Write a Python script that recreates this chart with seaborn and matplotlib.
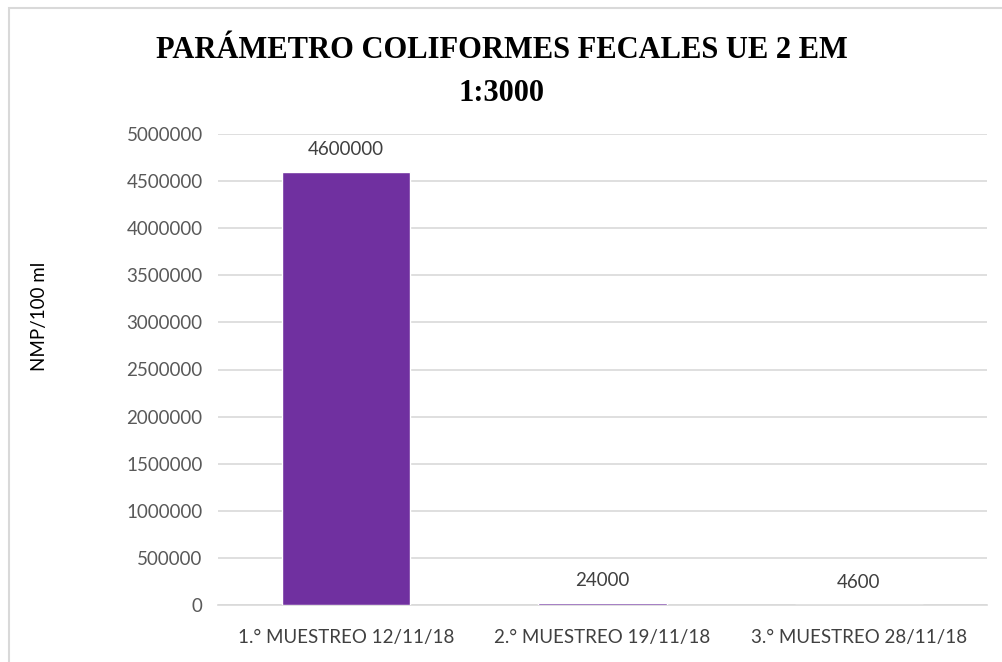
import matplotlib
matplotlib.use("Agg")
import matplotlib.pyplot as plt
import seaborn as sns
import pandas as pd
from matplotlib.patches import Rectangle

categories = ["1.° MUESTREO 12/11/18", "2.° MUESTREO 19/11/18", "3.° MUESTREO 28/11/18"]
values = [4600000, 24000, 4600]
yticks = [0, 500000, 1000000, 1500000, 2000000, 2500000, 3000000, 3500000, 4000000, 4500000, 5000000]

sns.set_theme(style="white")
plt.rcParams['font.family'] = ['Lato', 'DejaVu Sans']

df = pd.DataFrame({"cat": categories, "val": values})

fig = plt.figure(figsize=(10.03, 6.62), dpi=100)
ax = fig.add_axes([218/1003, 1 - 605/662, (987-218)/1003, (605-134)/662])

sns.barplot(data=df, x="cat", y="val", color="#7030A0", saturation=1, width=0.5, ax=ax, zorder=3)

ax.set_ylim(0, 5000000)
ax.set_yticks(yticks)
ax.set_yticklabels([str(v) for v in yticks], fontsize=13.5, color="#595959")
ax.tick_params(axis="x", labelsize=13.5, colors="#404040", length=0, pad=17)
ax.tick_params(axis="y", length=0, pad=11)
ax.grid(axis="y", color="#d9d9d9", linewidth=1.2, zorder=0)
for s in ["top", "right", "left"]:
    ax.spines[s].set_visible(False)
ax.spines["bottom"].set_color("#d9d9d9")
ax.spines["bottom"].set_linewidth(1.2)
ax.set_xlabel("")
ax.set_ylabel("")
fig.text(40/1003, 1 - 316/662, "NMP/100 ml", rotation=90, ha="center", va="center",
         fontsize=13.5, color="#000000")

for i, v in enumerate(values):
    ax.annotate(str(v), (i, v), xytext=(0, 10), textcoords="offset points",
                ha="center", va="bottom", fontsize=13.5, color="#404040")

fig.text(0.5, 1 - 72/662, "PARÁMETRO COLIFORMES FECALES UE 2 EM\n1:3000",
         ha="center", va="center", fontsize=22, fontweight="bold",
         family=["Liberation Serif", "DejaVu Serif"], color="#000000", linespacing=1.65)

fig.patches.append(Rectangle((9/1003, -0.05), 1.2, 1 - 8/662 + 0.05, transform=fig.transFigure,
                             fill=False, edgecolor="#d9d9d9", linewidth=1.5))

fig.savefig("out.png", dpi=100)
